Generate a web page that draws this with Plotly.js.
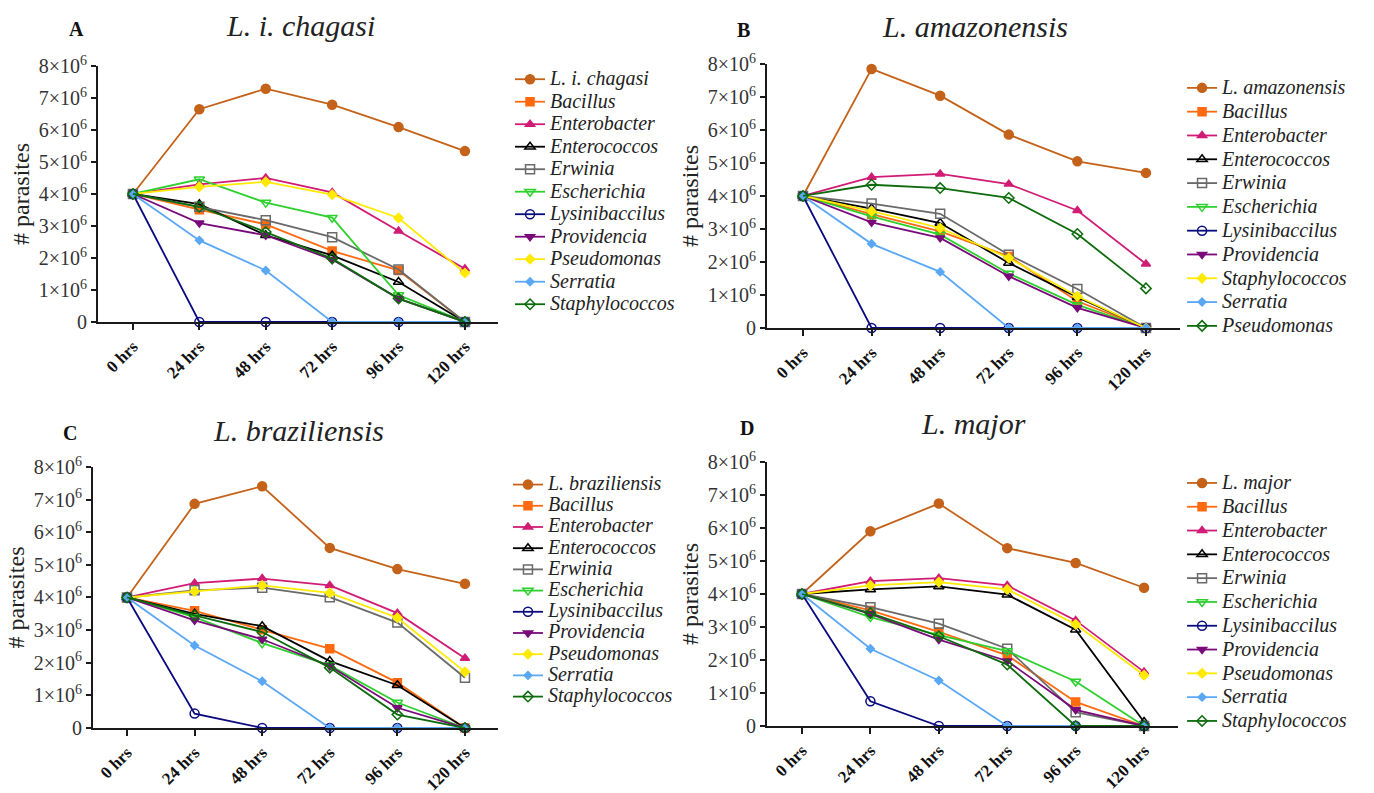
<!DOCTYPE html>
<html>
<head>
<meta charset="utf-8">
<script src="https://cdn.plot.ly/plotly-3.0.1.min.js"></script>
<style>html,body{margin:0;padding:0;background:#fff;}#chart{width:1374px;height:793px;}</style>
</head>
<body>
<div id="chart"></div>
<script>
// ---------- DATA ----------
const timeLabels = ['0 hrs', '24 hrs', '48 hrs', '72 hrs', '96 hrs', '120 hrs'];
const yTickVals = [0, 1e6, 2e6, 3e6, 4e6, 5e6, 6e6, 7e6, 8e6];
const yTickText = ['0', '1×10<sup>6</sup>', '2×10<sup>6</sup>', '3×10<sup>6</sup>', '4×10<sup>6</sup>',
                   '5×10<sup>6</sup>', '6×10<sup>6</sup>', '7×10<sup>6</sup>', '8×10<sup>6</sup>'];
const panelLetters = ['A', 'B', 'C', 'D'];
const panelTitles = ['L. i. chagasi', 'L. amazonensis', 'L. braziliensis', 'L. major'];

// Panel A: L. i. chagasi
const namesA = ['L. i. chagasi', 'Bacillus', 'Enterobacter', 'Enterococcos', 'Erwinia', 'Escherichia',
                'Lysinibaccilus', 'Providencia', 'Pseudomonas', 'Serratia', 'Staphylococcos'];
const valuesA = [
  [4.0e6, 6.65e6, 7.29e6, 6.79e6, 6.09e6, 5.34e6],
  [4.0e6, 3.51e6, 3.05e6, 2.22e6, 1.61e6, 0],
  [4.0e6, 4.30e6, 4.50e6, 4.05e6, 2.84e6, 1.66e6],
  [4.0e6, 3.68e6, 2.71e6, 2.08e6, 1.25e6, 0],
  [4.0e6, 3.60e6, 3.18e6, 2.65e6, 1.64e6, 0],
  [4.0e6, 4.46e6, 3.73e6, 3.26e6, 0.84e6, 0],
  [4.0e6, 0, 0, 0, 0, 0],
  [4.0e6, 3.09e6, 2.71e6, 1.95e6, 0.73e6, 0],
  [4.0e6, 4.22e6, 4.38e6, 3.98e6, 3.25e6, 1.53e6],
  [4.0e6, 2.55e6, 1.61e6, 0, 0, 0],
  [4.0e6, 3.60e6, 2.81e6, 1.98e6, 0.73e6, 0]
];

// Panel B: L. amazonensis
const namesB = ['L. amazonensis', 'Bacillus', 'Enterobacter', 'Enterococcos', 'Erwinia', 'Escherichia',
                'Lysinibaccilus', 'Providencia', 'Staphylococcos', 'Serratia', 'Pseudomonas'];
const valuesB = [
  [4.0e6, 7.85e6, 7.04e6, 5.86e6, 5.05e6, 4.70e6],
  [4.0e6, 3.45e6, 2.93e6, 2.17e6, 0.81e6, 0],
  [4.0e6, 4.57e6, 4.67e6, 4.36e6, 3.56e6, 1.94e6],
  [4.0e6, 3.62e6, 3.18e6, 1.97e6, 0.93e6, 0],
  [4.0e6, 3.77e6, 3.46e6, 2.22e6, 1.18e6, 0],
  [4.0e6, 3.38e6, 2.83e6, 1.65e6, 0.70e6, 0],
  [4.0e6, 0, 0, 0, 0, 0],
  [4.0e6, 3.20e6, 2.73e6, 1.57e6, 0.61e6, 0],
  [4.0e6, 3.54e6, 3.03e6, 2.12e6, 0.96e6, 0],
  [4.0e6, 2.55e6, 1.70e6, 0, 0, 0],
  [4.0e6, 4.34e6, 4.24e6, 3.94e6, 2.85e6, 1.20e6]
];

// Panel C: L. braziliensis
const namesC = ['L. braziliensis', 'Bacillus', 'Enterobacter', 'Enterococcos', 'Erwinia', 'Escherichia',
                'Lysinibaccilus', 'Providencia', 'Pseudomonas', 'Serratia', 'Staphylococcos'];
const valuesC = [
  [4.0e6, 6.87e6, 7.41e6, 5.52e6, 4.87e6, 4.42e6],
  [4.0e6, 3.59e6, 3.01e6, 2.43e6, 1.39e6, 0],
  [4.0e6, 4.44e6, 4.58e6, 4.37e6, 3.52e6, 2.14e6],
  [4.0e6, 3.50e6, 3.12e6, 2.05e6, 1.31e6, 0],
  [4.0e6, 4.22e6, 4.30e6, 4.01e6, 3.23e6, 1.54e6],
  [4.0e6, 3.40e6, 2.60e6, 1.92e6, 0.78e6, 0],
  [4.0e6, 0.44e6, 0, 0, 0, 0],
  [4.0e6, 3.30e6, 2.72e6, 1.90e6, 0.62e6, 0],
  [4.0e6, 4.19e6, 4.37e6, 4.14e6, 3.38e6, 1.72e6],
  [4.0e6, 2.53e6, 1.43e6, 0, 0, 0],
  [4.0e6, 3.45e6, 2.94e6, 1.85e6, 0.41e6, 0]
];

// Panel D: L. major
const namesD = ['L. major', 'Bacillus', 'Enterobacter', 'Enterococcos', 'Erwinia', 'Escherichia',
                'Lysinibaccilus', 'Providencia', 'Pseudomonas', 'Serratia', 'Staphylococcos'];
const valuesD = [
  [4.0e6, 5.90e6, 6.74e6, 5.39e6, 4.94e6, 4.19e6],
  [4.0e6, 3.50e6, 2.85e6, 2.14e6, 0.73e6, 0],
  [4.0e6, 4.39e6, 4.48e6, 4.26e6, 3.20e6, 1.64e6],
  [4.0e6, 4.14e6, 4.23e6, 3.98e6, 2.92e6, 0.12e6],
  [4.0e6, 3.60e6, 3.10e6, 2.34e6, 0.42e6, 0],
  [4.0e6, 3.30e6, 2.75e6, 2.27e6, 1.35e6, 0],
  [4.0e6, 0.75e6, 0, 0, 0, 0],
  [4.0e6, 3.40e6, 2.62e6, 1.97e6, 0.49e6, 0],
  [4.0e6, 4.26e6, 4.36e6, 4.14e6, 3.08e6, 1.54e6],
  [4.0e6, 2.34e6, 1.38e6, 0, 0, 0],
  [4.0e6, 3.42e6, 2.72e6, 1.86e6, 0, 0]
];

// ---------- STYLES (by legend position) ----------
const styles = [
  {color: '#C4621A', symbol: 'circle', size: 9},
  {color: '#FF6A10', symbol: 'square', size: 8},
  {color: '#D01C74', symbol: 'triangle-up', size: 8},
  {color: '#000000', symbol: 'triangle-up-open', size: 9},
  {color: '#6A6A6A', symbol: 'square-open', size: 9},
  {color: '#2ED02E', symbol: 'triangle-down-open', size: 9},
  {color: '#0A0A80', symbol: 'circle-open', size: 9},
  {color: '#7A0A7A', symbol: 'triangle-down', size: 8},
  {color: '#FFEA00', symbol: 'diamond', size: 7},
  {color: '#5AA8F5', symbol: 'diamond', size: 6},
  {color: '#0D6B0D', symbol: 'diamond-open', size: 8}
];

const SERIF = '"Liberation Serif", "Times New Roman", serif';

const panels = [
  {names: namesA, values: valuesA, xa: 'x',  ya: 'y',  leg: 'legend',  legFont: 15,
   xdom: [0.0713, 0.3624], xr: [-0.527, 5.497], ydom: [0.594, 0.9168],
   legX: 0.3712, legY: 0.9206, letter: [76, 29], title: [300, 25]},
  {names: namesB, values: valuesB, xa: 'x2', ya: 'y2', leg: 'legend2', legFont: 16,
   xdom: [0.5582, 0.8588], xr: [-0.525, 5.496], ydom: [0.5864, 0.9193],
   legX: 0.8603, legY: 0.9105, letter: [743, 30], title: [975, 27]},
  {names: namesC, values: valuesC, xa: 'x3', ya: 'y3', leg: 'legend3', legFont: 14,
   xdom: [0.0677, 0.3624], xr: [-0.503, 5.488], ydom: [0.082, 0.4111],
   legX: 0.3697, legY: 0.4086, letter: [70, 433], title: [298, 430]},
  {names: namesD, values: valuesD, xa: 'x4', ya: 'y4', leg: 'legend4', legFont: 16,
   xdom: [0.5582, 0.8574], xr: [-0.512, 5.497], ydom: [0.0845, 0.4174],
   legX: 0.8603, legY: 0.4123, letter: [747, 428], title: [973, 423]}
];

const W = 1374, H = 793;
const traces = [];
const layout = {
  width: W, height: H,
  margin: {l: 0, r: 0, t: 0, b: 0},
  paper_bgcolor: '#ffffff', plot_bgcolor: 'rgba(0,0,0,0)',
  showlegend: true,
  annotations: []
};

panels.forEach((p, pi) => {
  p.names.forEach((nm, i) => {
    const st = styles[i];
    traces.push({
      type: 'scatter', mode: 'lines+markers',
      x: timeLabels, y: p.values[i],
      xaxis: p.xa, yaxis: p.ya, legend: p.leg,
      name: '<span style="font-size:20px">' + nm + '</span>',
      cliponaxis: false,
      line: {color: st.color, width: 1.8},
      marker: {color: st.color, symbol: st.symbol, size: st.size,
               line: {color: st.color, width: 1.5}}
    });
  });
  const sfx = pi === 0 ? '' : String(pi + 1);
  layout['xaxis' + sfx] = {
    domain: p.xdom, range: p.xr, type: 'category', anchor: 'y' + sfx,
    showline: true, linecolor: '#1a1a1a', linewidth: 2,
    ticks: 'outside', ticklen: 6, tickwidth: 2, tickcolor: '#1a1a1a',
    tickangle: -45, tickfont: {family: SERIF, size: 17, color: '#111', weight: 'bold'},
    showgrid: false, zeroline: false, fixedrange: true
  };
  layout['yaxis' + sfx] = {
    domain: p.ydom, range: [0, 8e6], anchor: 'x' + sfx,
    tickmode: 'array', tickvals: yTickVals, ticktext: yTickText,
    showline: true, linecolor: '#1a1a1a', linewidth: 2,
    ticks: 'outside', ticklen: 5, tickwidth: 2, tickcolor: '#1a1a1a',
    tickfont: {family: SERIF, size: 20, color: '#333'},
    title: {text: '# parasites', font: {family: SERIF, size: 24, color: '#222'}, standoff: 2},
    showgrid: false, zeroline: false, fixedrange: true
  };
  layout[p.leg] = {
    x: p.legX, y: p.legY, xanchor: 'left', yanchor: 'top',
    xref: 'paper', yref: 'paper',
    bgcolor: 'rgba(0,0,0,0)', borderwidth: 0,
    font: {family: SERIF, size: p.legFont, color: '#222', style: 'italic'},
    itemwidth: 30, traceorder: 'normal'
  };
  layout.annotations.push({
    xref: 'paper', yref: 'paper', x: p.letter[0] / W, y: 1 - p.letter[1] / H,
    xanchor: 'center', yanchor: 'middle', showarrow: false,
    text: '<b>' + panelLetters[pi] + '</b>',
    font: {family: SERIF, size: 20, color: '#111'}
  });
  layout.annotations.push({
    xref: 'paper', yref: 'paper', x: p.title[0] / W, y: 1 - p.title[1] / H,
    xanchor: 'center', yanchor: 'middle', showarrow: false,
    text: '<i>' + panelTitles[pi] + '</i>',
    font: {family: SERIF, size: 30, color: '#222'}
  });
});

Plotly.newPlot('chart', traces, layout, {displayModeBar: false, staticPlot: true});
</script>
</body>
</html>
